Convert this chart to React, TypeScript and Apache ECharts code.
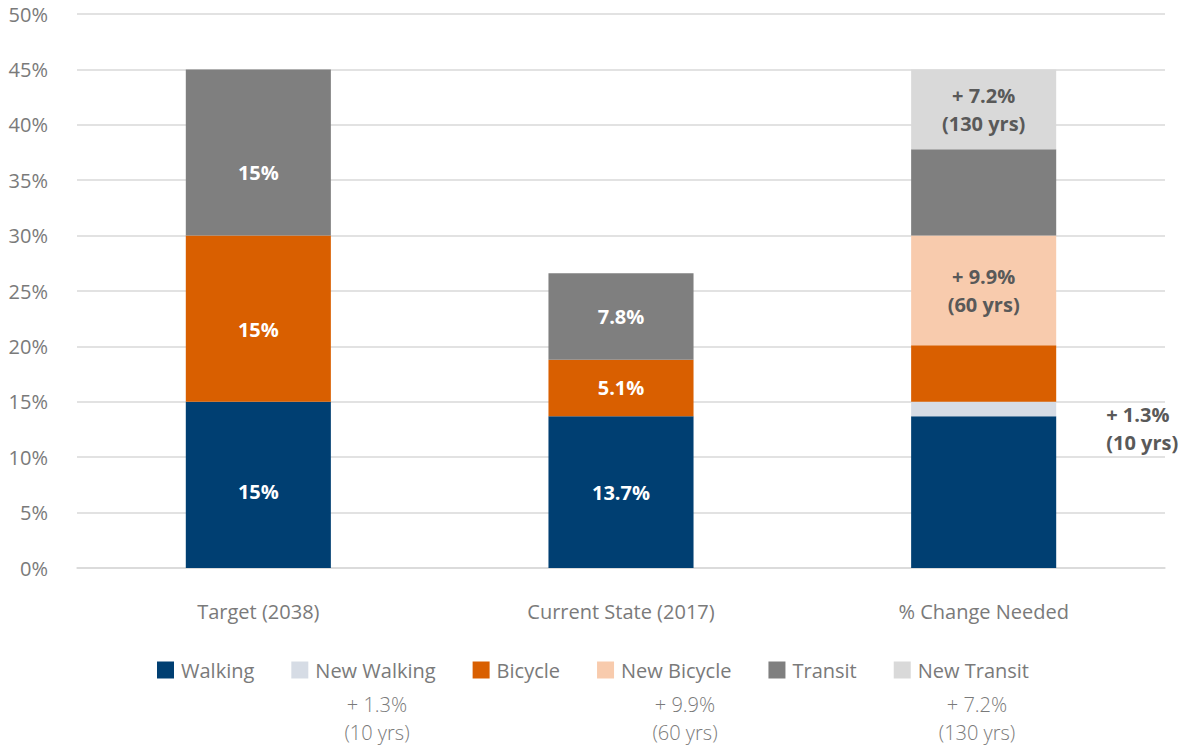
import React, { useEffect, useRef } from "react";
import * as echarts from "echarts";

const categories = ["Target (2038)", "Current State (2017)", "% Change Needed"];
const walking = [15, 13.7, 13.7];
const newWalking = [0, 0, 1.3];
const bicycle = [15, 5.1, 5.1];
const newBicycle = [0, 0, 9.9];
const transit = [15, 7.8, 7.8];
const newTransit = [0, 0, 7.2];
const yTicks = [0, 5, 10, 15, 20, 25, 30, 35, 40, 45, 50];
const walkingLabels = ["15%", "13.7%", ""];
const bicycleLabels = ["15%", "5.1%", ""];
const transitLabels = ["15%", "7.8%", ""];
const newWalkingLabel = "+ 1.3%\n(10 yrs)";
const newBicycleLabel = "+ 9.9%\n(60 yrs)";
const newTransitLabel = "+ 7.2%\n(130 yrs)";

const FONT = "'Open Sans', 'Noto Sans', sans-serif";
const GRAY = "#7a7a7a";
const DARK = "#595959";

const colors = {
  walking: "#003f72",
  newWalking: "#d6dce5",
  bicycle: "#d95f00",
  newBicycle: "#f8cbad",
  transit: "#7f7f7f",
  newTransit: "#d9d9d9",
};

// offsets used in the original for target bar labels
const target1Offsets = [7, 11, 20];

export default function App() {
  const ref = useRef<HTMLDivElement>(null);
  useEffect(() => {
    if (!ref.current) return;
    const chart = echarts.init(ref.current, null, { renderer: "svg" });

    const whiteLabelData = (vals: number[], labels: string[], offIdx: number) =>
      vals.map((v, i) => ({
        value: v,
        label: {
          show: labels[i] !== "",
          formatter: labels[i],
          offset: i === 0 ? [0, target1Offsets[offIdx]] : [0, 0],
        },
      }));

    const newLabelData = (vals: number[], text: string, outside: boolean) =>
      vals.map((v, i) =>
        v > 0
          ? {
              value: v,
              label: outside
                ? {
                    show: true,
                    position: "right",
                    distance: 50,
                    offset: [0, 19],
                    formatter: text,
                    color: DARK,
                    fontWeight: "bold",
                    fontSize: 20,
                    lineHeight: 28,
                    fontFamily: FONT,
                    align: "left",
                  }
                : {
                    show: true,
                    position: "inside",
                    formatter: text,
                    color: DARK,
                    fontWeight: "bold",
                    fontSize: 20,
                    lineHeight: 28,
                    fontFamily: FONT,
                  },
            }
          : { value: v, label: { show: false } }
      );

    const whiteLabel = {
      show: true,
      position: "inside",
      color: "#ffffff",
      fontWeight: "bold",
      fontSize: 20,
      fontFamily: FONT,
    };

    const base = {
      type: "bar",
      stack: "total",
      barWidth: "40%",
    };

    const legendNames = [
      "Walking",
      "New Walking",
      "Bicycle",
      "New Bicycle",
      "Transit",
      "New Transit",
    ];

    const subText = (x: number, text: string) => ({
      type: "text",
      x,
      y: 690,
      style: {
        text,
        fill: GRAY,
        font: `300 20px ${FONT}`,
        textAlign: "center",
        lineHeight: 28,
      },
    });

    chart.setOption({
      animation: false,
      grid: {
        left: 77,
        right: 21,
        top: 14,
        bottom: 179,
        outerBoundsMode: "none",
        containLabel: false,
      },
      xAxis: {
        type: "category",
        data: categories,
        axisLine: { show: true, lineStyle: { color: "#d9d9d9", width: 1.5 } },
        axisTick: { show: false },
        axisLabel: {
          color: GRAY,
          fontSize: 20,
          fontFamily: FONT,
          margin: 33,
        },
      },
      yAxis: {
        type: "value",
        min: 0,
        max: 50,
        interval: 5,
        axisLine: { show: false },
        axisTick: { show: false },
        splitLine: { lineStyle: { color: "#d9d9d9", width: 1.5 } },
        axisLabel: {
          color: GRAY,
          fontSize: 20,
          fontFamily: FONT,
          margin: 29,
          formatter: (v: number) => (yTicks.includes(v) ? `${v}%` : ""),
        },
      },
      legend: {
        data: legendNames,
        left: "center",
        top: 655,
        itemWidth: 17,
        itemHeight: 17,
        itemGap: 37,
        icon: "rect",
        textStyle: {
          color: GRAY,
          fontSize: 20,
          fontFamily: FONT,
          padding: [0, 0, 0, 2],
        },
      },
      graphic: [
        subText(377, "+ 1.3%\n(10 yrs)"),
        subText(685, "+ 9.9%\n(60 yrs)"),
        subText(977, "+ 7.2%\n(130 yrs)"),
      ],
      series: [
        {
          ...base,
          name: "Walking",
          itemStyle: { color: colors.walking },
          label: whiteLabel,
          data: whiteLabelData(walking, walkingLabels, 0),
        },
        {
          ...base,
          name: "New Walking",
          itemStyle: { color: colors.newWalking },
          data: newLabelData(newWalking, newWalkingLabel, true),
        },
        {
          ...base,
          name: "Bicycle",
          itemStyle: { color: colors.bicycle },
          label: whiteLabel,
          data: whiteLabelData(bicycle, bicycleLabels, 1),
        },
        {
          ...base,
          name: "New Bicycle",
          itemStyle: { color: colors.newBicycle },
          data: newLabelData(newBicycle, newBicycleLabel, false),
        },
        {
          ...base,
          name: "Transit",
          itemStyle: { color: colors.transit },
          label: whiteLabel,
          data: whiteLabelData(transit, transitLabels, 2),
        },
        {
          ...base,
          name: "New Transit",
          itemStyle: { color: colors.newTransit },
          data: newLabelData(newTransit, newTransitLabel, false),
        },
      ],
    });
    return () => chart.dispose();
  }, []);

  return (
    <div
      ref={ref}
      style={{
        position: "fixed",
        left: 0,
        top: 0,
        width: 1186,
        height: 747,
        background: "#ffffff",
      }}
    />
  );
}
